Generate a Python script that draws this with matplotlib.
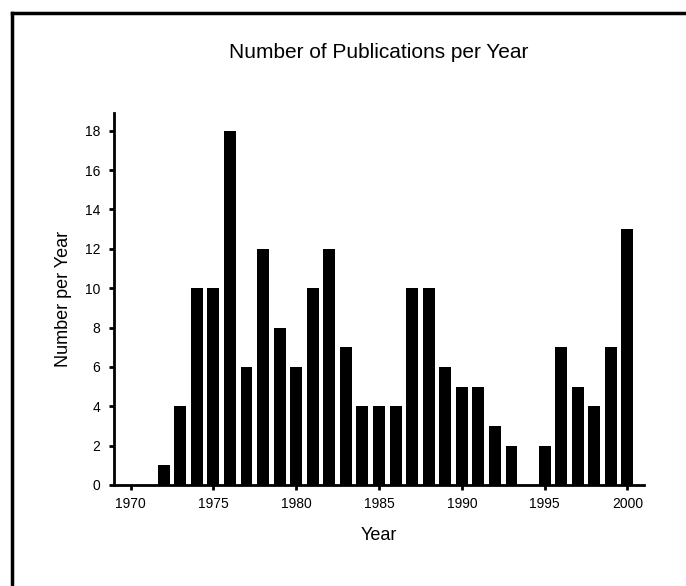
import matplotlib
matplotlib.use("Agg")
import matplotlib.pyplot as plt
from matplotlib.lines import Line2D

plt.rcParams['font.family'] = ['Liberation Sans', 'DejaVu Sans']

# data
years = list(range(1972, 2001))
counts = [1, 4, 10, 10, 18, 6, 12, 8, 6, 10, 12, 7, 4, 4, 4, 10, 10, 6,
          5, 5, 3, 2, 0, 2, 7, 5, 4, 7, 13]
x_ticks = [1970, 1975, 1980, 1985, 1990, 1995, 2000]
y_ticks = list(range(0, 19, 2))

fig = plt.figure(figsize=(6.86, 5.86), dpi=100)
ax = fig.add_axes([114/686, 1 - 485/586, (644 - 114)/686, (485 - 113)/586])

ax.bar(years, counts, width=0.72, color='black')

ax.set_xlim(1969.0, 2001.0)
ax.set_ylim(0, 18.9)
ax.set_xticks(x_ticks)
ax.set_yticks(y_ticks)

for side in ['top', 'right']:
    ax.spines[side].set_visible(False)
for side in ['left', 'bottom']:
    ax.spines[side].set_linewidth(2)
ax.tick_params(direction='out', length=3.8, width=2, labelsize=10)
ax.tick_params(axis='x', pad=5)
ax.tick_params(axis='y', pad=6)

ax.set_xlabel("Year", fontsize=13, labelpad=11)
ax.set_ylabel("Number per Year", fontsize=13, labelpad=9)
fig.text(379/686, 1 - 52/586, "Number of Publications per Year",
         ha='center', va='center', fontsize=15)

# frame line on the left and top edges of the picture
fig.add_artist(Line2D([11.5/686, 11.5/686], [0, 1 - 13/586], color='black',
                      lw=2.5, transform=fig.transFigure))
fig.add_artist(Line2D([11.5/686, 1], [1 - 13/586, 1 - 13/586], color='black',
                      lw=2.5, transform=fig.transFigure))

fig.savefig("out.png", dpi=100)
